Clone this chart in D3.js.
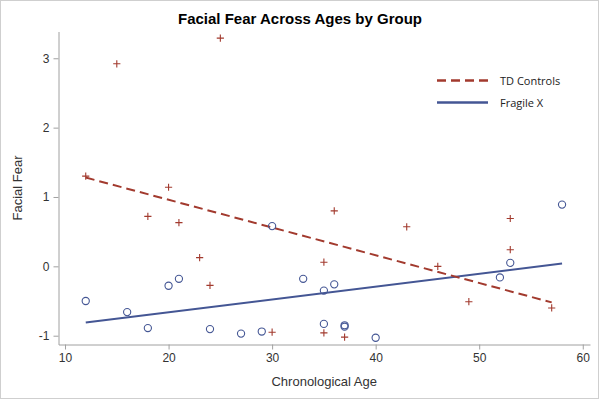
<!DOCTYPE html>
<html>
<head>
<meta charset="utf-8">
<script src="https://cdn.jsdelivr.net/npm/d3@7/dist/d3.min.js"></script>
<style>
  html, body { margin: 0; padding: 0; background: #fff; }
  svg { display: block; }
</style>
</head>
<body>
<svg id="chart" width="600" height="400"></svg>
<script>
// ---- data ----
const tdAge  = [12, 15, 25, 20, 18, 21, 23, 24, 30, 36, 43, 35, 46, 53, 53, 49, 57, 35, 37];
const tdFear = [1.30, 2.92, 3.29, 1.14, 0.72, 0.63, 0.125, -0.275, -0.95, 0.80, 0.57, 0.06, 0.0, 0.69, 0.24, -0.51, -0.60, -0.96, -1.02];
const fxAge  = [12, 16, 18, 20, 21, 24, 27, 29, 30, 33, 35, 36, 35, 37, 37, 40, 52, 53, 58];
const fxFear = [-0.50, -0.66, -0.89, -0.28, -0.18, -0.905, -0.97, -0.94, 0.58, -0.18, -0.35, -0.26, -0.83, -0.85, -0.87, -1.03, -0.16, 0.05, 0.89];
const tdFitX = [12, 57];
const tdFitY = [1.28, -0.52];
const fxFitX = [12, 58];
const fxFitY = [-0.81, 0.04];
const xTicks = [10, 20, 30, 40, 50, 60];
const yTicks = [-1, 0, 1, 2, 3];
const groups = ["TD Controls", "Fragile X"];
const colors = ["#A23A2E", "#445694"];

// ---- layout ----
const svg = d3.select("#chart");
const pLeft = 58.5, pRight = 590, pTop = 31.5, pBottom = 344.5;

const x = d3.scaleLinear().domain([9.37, 60.7]).range([pLeft, pRight]);
const y = d3.scaleLinear().domain([-1.127, 3.386]).range([pBottom, pTop]);

// outer border
svg.append("rect").attr("x", 0.5).attr("y", 0.5).attr("width", 598).attr("height", 398)
  .attr("fill", "#fff").attr("stroke", "#cfcfcf");

const font = "'Liberation Sans', Arial, sans-serif";
const fmt = d => String(d);

// axes
const xAxis = d3.axisBottom(x).tickValues(xTicks).tickFormat(fmt).tickSize(5).tickSizeOuter(0).tickPadding(4);
const yAxis = d3.axisLeft(y).tickValues(yTicks).tickFormat(fmt).tickSize(5).tickSizeOuter(0).tickPadding(4);

const gx = svg.append("g").attr("transform", `translate(0,${pBottom})`).call(xAxis);
const gy = svg.append("g").attr("transform", `translate(${pLeft},0)`).call(yAxis);
[gx, gy].forEach(g => {
  g.select(".domain").attr("stroke", "#a0a0a0");
  g.selectAll(".tick line").attr("stroke", "#a0a0a0");
  g.selectAll(".tick text").attr("fill", "#333").style("font-family", font).style("font-size", "12px");
});

// axis titles
svg.append("text").attr("x", (pLeft + pRight) / 2).attr("y", 386)
  .attr("text-anchor", "middle").attr("fill", "#333")
  .style("font-family", font).style("font-size", "13px").text("Chronological Age");
svg.append("text").attr("transform", `translate(22,${(pTop + pBottom) / 2}) rotate(-90)`)
  .attr("text-anchor", "middle").attr("fill", "#333")
  .style("font-family", font).style("font-size", "13px").text("Facial Fear");

// title
svg.append("text").attr("x", 300).attr("y", 23.5).attr("text-anchor", "middle")
  .attr("fill", "#000").style("font-family", font).style("font-size", "15px").style("font-weight", "bold")
  .text("Facial Fear Across Ages by Group");

// fit lines
const line = d3.line().x(d => x(d[0])).y(d => y(d[1]));
svg.append("path").datum(d3.zip(fxFitX, fxFitY)).attr("d", line)
  .attr("fill", "none").attr("stroke", colors[1]).attr("stroke-width", 2);
svg.append("path").datum(d3.zip(tdFitX, tdFitY)).attr("d", line)
  .attr("fill", "none").attr("stroke", colors[0]).attr("stroke-width", 2).attr("stroke-dasharray", "9,5");

// markers
svg.append("g").selectAll("circle").data(d3.zip(fxAge, fxFear)).join("circle")
  .attr("cx", d => x(d[0])).attr("cy", d => y(d[1])).attr("r", 3.6)
  .attr("fill", "none").attr("stroke", colors[1]).attr("stroke-width", 1.1);

const s = 3.6;
svg.append("g").selectAll("path").data(d3.zip(tdAge, tdFear)).join("path")
  .attr("d", d => {
    const cx = x(d[0]), cy = y(d[1]);
    return `M${cx - s},${cy}H${cx + s}M${cx},${cy - s}V${cy + s}`;
  })
  .attr("fill", "none").attr("stroke", colors[0]).attr("stroke-width", 1.1);

// legend
const legFont = "'Open Sans', 'Noto Sans', sans-serif";
const leg = svg.append("g");
groups.forEach((g, i) => {
  const ly = 80.5 + i * 22;
  leg.append("line").attr("x1", 437).attr("x2", 488).attr("y1", ly).attr("y2", ly)
    .attr("stroke", colors[i]).attr("stroke-width", 2.5)
    .attr("stroke-dasharray", i === 0 ? "9,5" : null);
  leg.append("text").attr("x", 500).attr("y", ly + 4)
    .attr("fill", "#222").style("font-family", legFont).style("font-size", "11px").text(g);
});
</script>
</body>
</html>
